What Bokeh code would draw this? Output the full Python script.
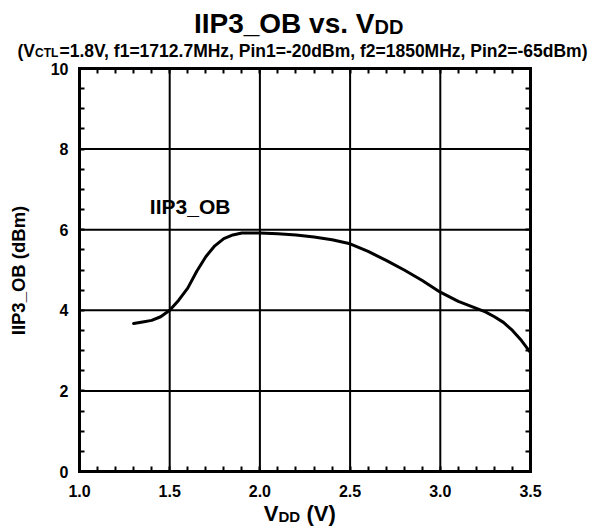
from bokeh.plotting import figure
from bokeh.models import (Label, LinearAxis, SingleIntervalTicker, PrintfTickFormatter,
                          CustomJSTickFormatter, Range1d)
from bokeh.embed import file_html
from bokeh.resources import INLINE
from math import pi

# ---- data ----
vdd = [1.3, 1.35, 1.4, 1.45, 1.5, 1.55, 1.6, 1.65, 1.7, 1.75, 1.8, 1.85, 1.9, 2.0,
       2.1, 2.2, 2.3, 2.4, 2.5, 2.6, 2.7, 2.8, 2.9, 3.0, 3.1, 3.2, 3.25, 3.3, 3.35,
       3.4, 3.45, 3.5]
iip3_ob = [3.67, 3.71, 3.75, 3.84, 4.0, 4.25, 4.55, 4.97, 5.33, 5.6, 5.78, 5.87, 5.92, 5.92,
           5.9, 5.87, 5.82, 5.75, 5.65, 5.46, 5.24, 5.0, 4.74, 4.45, 4.22, 4.05, 3.96, 3.84, 3.7,
           3.5, 3.25, 2.95]
x_bounds = (1.0, 3.5)
y_bounds = (0.0, 10.0)
x_grid = [1.5, 2.0, 2.5, 3.0]
y_grid = [2, 4, 6, 8]
series_name = "IIP3_OB"

FONT = "Liberation Sans"

W, H = 594, 529
# plot box in canvas pixels
BOX_L, BOX_R, BOX_T, BOX_B = 79, 530, 68, 471
kx = (BOX_R - BOX_L) / (x_bounds[1] - x_bounds[0])
ky = (BOX_B - BOX_T) / (y_bounds[1] - y_bounds[0])
x_range = Range1d(x_bounds[0] - BOX_L / kx, x_bounds[1] + (W - BOX_R) / kx)
y_range = Range1d(y_bounds[0] - (H - BOX_B) / ky, y_bounds[1] + BOX_T / ky)

p = figure(width=W, height=H, output_backend="svg", toolbar_location=None,
           x_range=x_range, y_range=y_range, min_border=0,
           x_axis_location=None, y_axis_location=None)
p.outline_line_color = None
p.background_fill_color = "white"
p.border_fill_color = "white"
p.xgrid.visible = False
p.ygrid.visible = False

xt = SingleIntervalTicker(interval=0.5, num_minor_ticks=5)
yt = SingleIntervalTicker(interval=2, num_minor_ticks=4)
blank = CustomJSTickFormatter(code="return ''")


def style(ax):
    ax.axis_line_color = "black"
    ax.axis_line_width = 3
    ax.axis_line_cap = "square"
    ax.major_tick_in = 0
    ax.major_tick_out = 0
    ax.minor_tick_in = 5
    ax.minor_tick_out = 0
    ax.minor_tick_line_color = "black"
    ax.minor_tick_line_width = 2
    ax.major_label_text_font = FONT
    ax.major_label_text_font_style = "bold"
    ax.major_label_text_font_size = "16px"
    ax.major_label_text_color = "black"


# gridlines through the data scales
p.segment(x0=x_grid, y0=[y_bounds[0]] * len(x_grid), x1=x_grid, y1=[y_bounds[1]] * len(x_grid),
          line_color="black", line_width=2)
p.segment(x0=[x_bounds[0]] * len(y_grid), y0=y_grid, x1=[x_bounds[1]] * len(y_grid), y1=y_grid,
          line_color="black", line_width=2)

xb = LinearAxis(ticker=xt, formatter=PrintfTickFormatter(format="%.1f"),
                fixed_location=y_bounds[0], bounds=x_bounds)
style(xb)
xb.major_label_standoff = 13
p.add_layout(xb, "below")

yl = LinearAxis(ticker=yt, formatter=PrintfTickFormatter(format="%d"),
                fixed_location=x_bounds[0], bounds=y_bounds)
style(yl)
yl.major_label_standoff = 11
p.add_layout(yl, "left")

xtop = LinearAxis(ticker=xt, formatter=blank, fixed_location=y_bounds[1], bounds=x_bounds)
style(xtop)
p.add_layout(xtop, "above")

yr = LinearAxis(ticker=yt, formatter=blank, fixed_location=x_bounds[1], bounds=y_bounds)
style(yr)
p.add_layout(yr, "right")

p.line(vdd, iip3_ob, line_color="black", line_width=3, line_join="round", line_cap="round")

p.add_layout(Label(x=1.39, y=6.58, text=series_name, text_font=FONT, text_font_style="bold",
                   text_font_size="21px", text_color="black", text_align="left",
                   text_baseline="middle"))


def lab(X, Y, text, size, align="left", angle=0):
    # X, Y: canvas pixels from the top-left corner (Y = vertical middle of the text)
    p.add_layout(Label(x=X, y=H - Y, x_units="screen", y_units="screen", text=text,
                       text_font=FONT, text_font_style="bold", text_font_size=size,
                       text_color="black", text_align=align, text_baseline="middle",
                       angle=angle))


# title
lab(374, 23.3, "IIP3_OB vs. V", "28px", align="right")
lab(374, 26.1, "DD", "20px", align="left")
# subtitle
lab(34.5, 50.9, "(V", "17.5px", align="right")
lab(34.5, 52.8, "CTL", "12px", align="left")
lab(59, 50.9, "=1.8V, f1=1712.7MHz, Pin1=-20dBm, f2=1850MHz, Pin2=-65dBm)", "17.5px")
# x axis label
lab(278, 513.4, "V", "22px", align="right")
lab(278, 515.8, "DD", "15px", align="left")
lab(306, 513.4, "(V)", "22px", align="left")
# y axis label
lab(17.5, 270, "IIP3_OB (dBm)", "18.5px", align="center", angle=pi / 2)

open("out.html", "w").write(file_html(p, INLINE))
